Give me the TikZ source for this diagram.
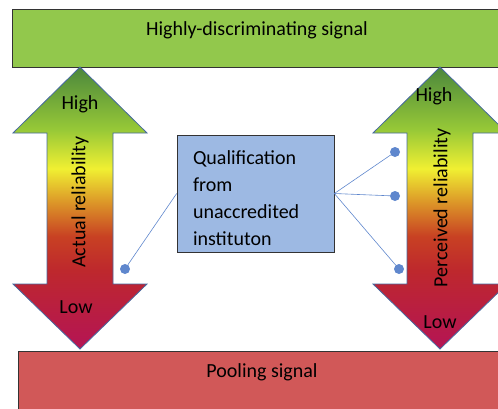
\documentclass[tikz,border=0pt]{standalone}
\usepackage{fontspec}
\setmainfont{Carlito}
\usetikzlibrary{calc}
\definecolor{topgreen}{RGB}{146,200,76}
\definecolor{poolred}{RGB}{209,88,88}
\definecolor{boxblue}{RGB}{157,185,227}
\definecolor{dotblue}{RGB}{95,135,205}
\definecolor{edgeblue}{RGB}{70,105,160}
\definecolor{tipgreen}{RGB}{75,135,60}
\definecolor{limegreen}{RGB}{150,200,55}
\definecolor{brightyellow}{RGB}{240,240,50}
\definecolor{amber}{RGB}{220,150,40}
\definecolor{brickred}{RGB}{200,65,35}
\definecolor{deepred}{RGB}{190,40,45}
\definecolor{crimsontip}{RGB}{180,20,85}
\pgfdeclareverticalshading{reliability}{100bp}{color(0bp)=(crimsontip); color(25bp)=(crimsontip); color(39bp)=(deepred); color(45bp)=(brickred); color(51bp)=(amber); color(57bp)=(brightyellow); color(64bp)=(limegreen); color(75bp)=(tipgreen); color(100bp)=(tipgreen)}
\tikzstyle{sigbar}=[rectangle,draw=black!80,line width=0.7pt,inner sep=0pt]
\tikzstyle{qualbox}=[rectangle,draw=black!80,line width=0.7pt,fill=boxblue,text width=125pt,inner xsep=16pt,minimum height=117pt,align=left]
\tikzstyle{dot}=[circle,fill=dotblue,minimum size=10pt,inner sep=0pt]
\tikzstyle{link}=[draw,dotblue,line width=0.6pt]
\tikzstyle{relarrow}=[shading=reliability,draw=edgeblue,line width=0.8pt]

\begin{document}
\begin{tikzpicture}[x=1pt,y=-1pt,font=\fontsize{20}{27}\selectfont]
    \useasboundingbox (0,0) rectangle (498,408);
    \clip (0,0) rectangle (498,408);

    % signal bars
    \node[sigbar,fill=topgreen,minimum width=492pt,minimum height=58pt] (hibar) at (258,38) {};
    \node (hitext) at (257,30) {Highly-discriminating signal};
    \node[sigbar,fill=poolred,minimum width=490pt,minimum height=84pt] (poolbar) at (263,393) {};
    \node (pooltext) at (262,372) {Pooling signal};

    % reliability arrows
    \foreach \cx in {80,440}
        \path[relarrow] (\cx,67) -- ++(67,66) -- ++(-34,0) -- ++(0,151) -- ++(34,0) -- (\cx,349)
            -- ++(-67,-65) -- ++(34,0) -- ++(0,-151) -- ++(-34,0) -- cycle;

    \node (acthigh) at (80,104) {High};
    \node (actlow) at (76,307) {Low};
    \node[rotate=90] (actlabel) at (80,202) {Actual reliability};
    \node (perhigh) at (434,96) {High};
    \node (perlow) at (440,322) {Low};
    \node[rotate=90] (perlabel) at (442,208) {Perceived reliability};

    \node[qualbox] (qual) at (255.5,193.5) {\rule{0pt}{23pt}Qualification\\from\\unaccredited\\instituton};

    \foreach \pos/ \name in {{(125,269)/actdot}, {(395,152)/perdotA}, {(395,196)/perdotB}, {(399,269)/perdotC}}
        \node[dot] (\name) at \pos {};

    % Connect qualification to the points on the arrows
    \path[link] (qual.west) -- (actdot);
    \foreach \dest in {perdotA,perdotB,perdotC}
        \path[link] (qual.east) -- (\dest);
\end{tikzpicture}
\end{document}
